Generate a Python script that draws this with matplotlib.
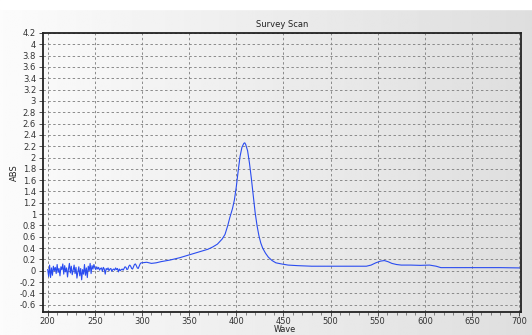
import numpy as np
import matplotlib
matplotlib.use("Agg")
import matplotlib.pyplot as plt
from matplotlib.ticker import MultipleLocator

# noisy start, 200..299 nm, step 1
noise_wave = list(range(200, 300))
noise_abs = [
    0.02, -0.10, 0.10, -0.12, 0.05, -0.08, 0.08, 0.00, 0.06, -0.05,
    0.11, -0.03, 0.04, -0.09, 0.07, 0.02, 0.12, -0.06, 0.09, -0.02,
    0.05, -0.11, 0.03, 0.13, -0.04, 0.08, -0.07, 0.01, 0.10, -0.05,
    0.06, -0.13, -0.02, 0.07, -0.09, 0.04, -0.16, 0.02, -0.06, 0.11,
    -0.08, 0.05, -0.12, 0.08, 0.00, 0.13, -0.05, 0.09, 0.03, 0.11,
    0.05, 0.02, 0.07, 0.03, 0.06, 0.01, 0.04, 0.05, -0.01, 0.06,
    0.03, -0.06, 0.04, 0.02, 0.05, 0.00, 0.03, 0.04, -0.01, 0.02,
    0.03, 0.01, 0.05, 0.02, 0.04, -0.02, 0.03, 0.00, 0.02, 0.03,
    0.01, 0.04, 0.07, 0.06, 0.02, 0.03, 0.08, 0.10, 0.08, 0.04,
    0.03, 0.07, 0.11, 0.12, 0.09, 0.05, 0.04, 0.08, 0.12, 0.14,
]

# smooth part, 300..700 nm
smooth_wave = [300, 305, 310, 315, 320, 330, 340, 350, 360, 370, 375, 380,
               385, 388, 391, 393, 396, 398, 400, 402, 404, 406, 408, 409,
               410, 412, 414, 416, 418, 420, 422, 424, 426, 428, 431, 434,
               438, 442, 448, 455, 465, 480, 500, 520, 538, 543, 548, 553,
               557, 561, 565, 570, 575, 585, 595, 605, 612, 617, 640, 660,
               680, 700]
smooth_abs = [0.14, 0.15, 0.13, 0.14, 0.16, 0.19, 0.23, 0.28, 0.33, 0.38, 0.42, 0.47,
              0.56, 0.64, 0.80, 0.93, 1.10, 1.25, 1.48, 1.76, 2.02, 2.18, 2.25, 2.26,
              2.23, 2.12, 1.90, 1.63, 1.33, 1.03, 0.80, 0.62, 0.49, 0.40, 0.31, 0.24,
              0.18, 0.14, 0.12, 0.10, 0.09, 0.08, 0.08, 0.08, 0.08, 0.10, 0.14, 0.17,
              0.18, 0.16, 0.13, 0.11, 0.10, 0.10, 0.095, 0.10, 0.08, 0.055, 0.055, 0.055,
              0.055, 0.05]

wave = noise_wave + smooth_wave
absorb = noise_abs + smooth_abs

fig = plt.figure(figsize=(5.32, 3.35), dpi=100)

# background gradient
bg = fig.add_axes([0, 0, 1, 1], zorder=-10)
grad = np.linspace(0.985, 0.87, 256).reshape(1, -1)
bg.imshow(np.repeat(grad, 2, axis=0), cmap="gray", vmin=0, vmax=1,
          aspect="auto", extent=[0, 1, 0, 1])
bg.axhspan(0.972, 1.0, color="white")
bg.set_xlim(0, 1)
bg.set_ylim(0, 1)
bg.axis("off")

ax = fig.add_axes([43 / 532, 23.5 / 335, 478 / 532, 278.5 / 335])
ax.set_facecolor("none")
ax.plot(wave, absorb, color="#2a4cf0", lw=0.8)

ax.set_xlim(195, 702)
ax.set_ylim(-0.72, 4.2)
ax.xaxis.set_major_locator(MultipleLocator(50))
ax.xaxis.set_minor_locator(MultipleLocator(10))
yt = np.arange(-0.6, 4.21, 0.2)
ax.set_yticks(yt)
ax.set_yticklabels(["%g" % round(v, 1) for v in yt])

ax.grid(True, which="major", color="#8a8a8a", ls=(0, (2.5, 2.5)), lw=0.7)
for s in ax.spines.values():
    s.set_linewidth(1.3)
    s.set_color("#222222")
ax.tick_params(axis="both", which="major", labelsize=6, colors="#333333",
               length=3, width=0.6, pad=2)
ax.tick_params(axis="x", which="major", pad=1)
ax.tick_params(axis="x", which="minor", length=2, width=0.5, colors="#555555")

ax.set_title("Survey Scan", fontsize=6, color="#222222", pad=4)
ax.set_xlabel("Wave", fontsize=5.8, color="#222222", va="center")
ax.set_ylabel("ABS", fontsize=6, color="#222222")
ax.xaxis.set_label_coords(0.505, -0.066)
ax.yaxis.set_label_coords(-0.05, 0.5)

fig.savefig("out.png", dpi=100)
